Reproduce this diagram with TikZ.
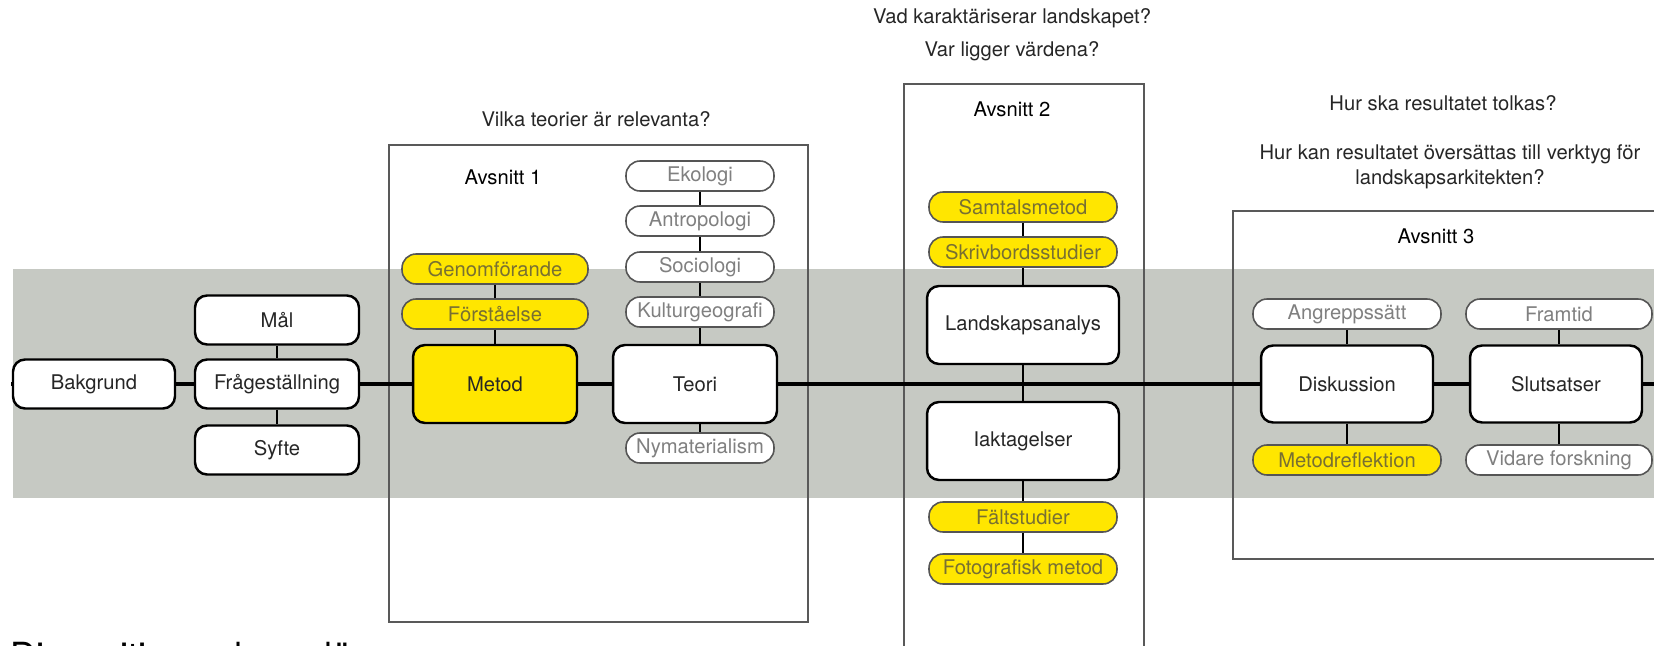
\documentclass[tikz,border=0pt]{standalone}
\usepackage{fontspec}
\setmainfont{TeX Gyre Heros}
\definecolor{bandgray}{RGB}{198,201,195}
\definecolor{ylw}{RGB}{255,230,0}
\definecolor{pilltext}{RGB}{128,128,128}
\definecolor{ypilltext}{RGB}{120,112,50}
\definecolor{pillline}{RGB}{85,85,85}
\begin{document}
\begin{tikzpicture}[x=0.02cm,y=-0.02cm,
    every node/.style={font=\fontsize{11.5}{14.2}\selectfont},
    box/.style={draw,line width=1.4pt,rounded corners=0.24cm,fill=white,text=black!85,inner sep=0pt,minimum width=3.28cm,minimum height=0.98cm},
    bigbox/.style={box,minimum height=1.56cm},
    pill/.style={draw=pillline,line width=0.9pt,rounded corners=0.28cm,fill=white,text=pilltext,inner sep=0pt,minimum height=0.6cm},
    ypill/.style={pill,fill=ylw,text=ypilltext},
    avsnitt/.style={draw=black!65,line width=0.6pt},
    link/.style={line width=1.1pt},
    question/.style={text=black!85,align=center}]
    \useasboundingbox (0,0) rectangle (1654,646);
    % band and sections
    \fill[bandgray] (13,269) rectangle (1654,498);
    \draw[avsnitt] (389,145) rectangle (808,622);
    \draw[avsnitt] (904,84) rectangle (1144,700);
    \draw[avsnitt] (1233,211) rectangle (1720,559);
    \coordinate (start) at (11,384);
    \coordinate (end) at (1654,384);
    % questions
    \node[question] (q1) at (596,119) {Vilka teorier är relevanta?};
    \node[question] (q2a) at (1012,18) {Vad karaktäriserar landskapet?};
    \node[question] (q2b) at (1012,51) {Var ligger värdena?};
    \node[question] (q3a) at (1443,103) {Hur ska resultatet tolkas?};
    \node[question] (q3b) at (1450,167) {Hur kan resultatet översättas till verktyg för\\landskapsarkitekten?};
    \node (a1) at (503,177) {Avsnitt 1};
    \node (a2) at (1012,109) {Avsnitt 2};
    \node (a3) at (1436,236) {Avsnitt 3};
    % start
    \node[box,minimum width=3.24cm] (bak) at (94,384) {Bakgrund};
    \node[box] (fra) at (277,384) {Frågeställning};
    \node[box] (mal) at (277,320) {Mål};
    \node[box] (syf) at (277,450) {Syfte};
    % avsnitt 1
    \node[bigbox,fill=ylw] (met) at (495,384) {Metod};
    \node[ypill,minimum width=3.72cm] (gen) at (495,269) {Genomförande};
    \node[ypill,minimum width=3.72cm] (fst) at (495,314) {Förståelse};
    \node[bigbox] (teo) at (695,384) {Teori};
    \node[pill,minimum width=2.96cm] (eko) at (700,176) {Ekologi};
    \node[pill,minimum width=2.96cm] (ant) at (700,221) {Antropologi};
    \node[pill,minimum width=2.96cm] (soc) at (700,267) {Sociologi};
    \node[pill,minimum width=2.96cm] (kul) at (700,312) {Kulturgeografi};
    \node[pill,minimum width=2.96cm] (nym) at (700,448) {Nymaterialism};
    % avsnitt 2
    \node[ypill,minimum width=3.76cm] (sam) at (1023,207) {Samtalsmetod};
    \node[ypill,minimum width=3.76cm] (skr) at (1023,252) {Skrivbordsstudier};
    \node[bigbox,minimum width=3.84cm] (lan) at (1023,325) {Landskapsanalys};
    \node[bigbox,minimum width=3.84cm] (iak) at (1023,441) {Iaktagelser};
    \node[ypill,minimum width=3.76cm] (fal) at (1023,517) {Fältstudier};
    \node[ypill,minimum width=3.76cm] (fot) at (1023,569) {Fotografisk metod};
    % avsnitt 3
    \node[bigbox,minimum width=3.44cm,minimum height=1.54cm] (dis) at (1347,384) {Diskussion};
    \node[bigbox,minimum width=3.44cm,minimum height=1.54cm] (slu) at (1556,384) {Slutsatser};
    \node[pill,minimum width=3.76cm] (ang) at (1347,314) {Angreppssätt};
    \node[pill,minimum width=3.72cm] (ftd) at (1559,314) {Framtid};
    \node[ypill,minimum width=3.76cm] (mrf) at (1347,460) {Metodreflektion};
    \node[pill,minimum width=3.72cm] (vid) at (1559,460) {Vidare forskning};
    % caption
    \node[anchor=base west,inner sep=0pt,font=\fontsize{20.5}{24}\selectfont] (cap) at (10,668) {Disposition och upplägg};
    % main line
    \draw[line width=2.6pt] (start) -- (bak);
    \draw[line width=2.6pt] (bak) -- (fra);
    \draw[line width=2.6pt] (fra) -- (met);
    \draw[line width=2.6pt] (met) -- (teo);
    \draw[line width=2.6pt] (teo) -- (dis);
    \draw[line width=2.6pt] (dis) -- (slu);
    \draw[line width=2.6pt] (slu) -- (end);
    % links
    \draw[link] (mal) -- (fra);
    \draw[link] (fra) -- (syf);
    \draw[link] (gen) -- (fst);
    \draw[link] (fst) -- (met);
    \draw[link] (eko) -- (ant);
    \draw[link] (ant) -- (soc);
    \draw[link] (soc) -- (kul);
    \draw[link] (kul) -- (kul |- teo.north);
    \draw[link] (nym) -- (nym |- teo.south);
    \draw[link] (sam) -- (skr);
    \draw[link] (skr) -- (lan);
    \draw[link] (lan) -- (iak);
    \draw[link] (iak) -- (fal);
    \draw[link] (fal) -- (fot);
    \draw[link] (ang) -- (dis);
    \draw[link] (dis) -- (mrf);
    \draw[link] (ftd) -- (ftd |- slu.north);
    \draw[link] (vid) -- (vid |- slu.south);
\end{tikzpicture}
\end{document}
